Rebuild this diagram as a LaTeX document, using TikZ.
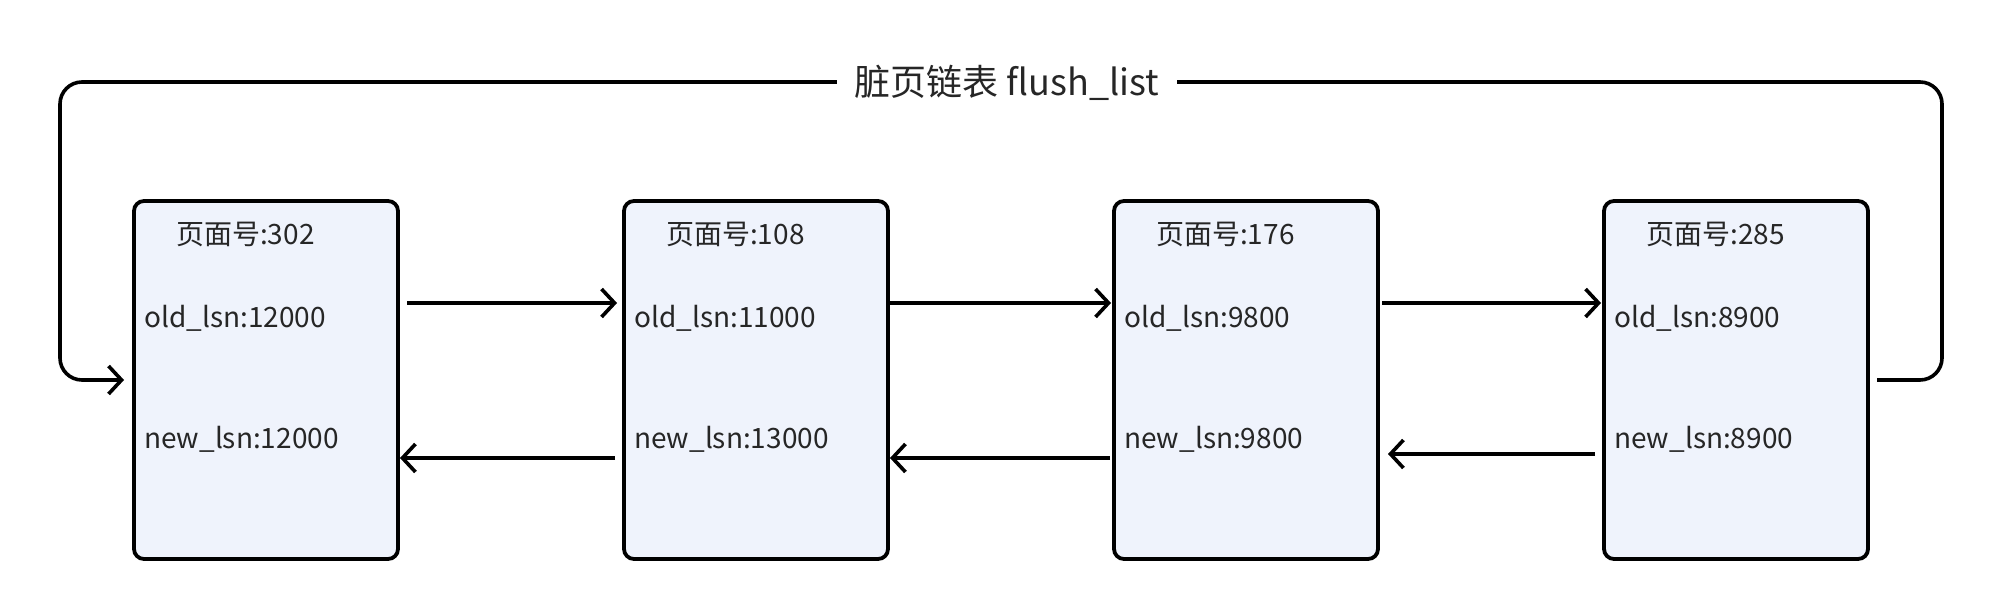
\documentclass[tikz,border=0pt]{standalone}
\usepackage{fontspec}
\setmainfont{Noto Sans CJK SC}
\usetikzlibrary{arrows.meta,calc}
\definecolor{boxfill}{HTML}{EFF3FC}
\definecolor{txt}{HTML}{262626}
\begin{document}
\begin{tikzpicture}[x=1pt,y=-1pt,
  page/.style={draw=black, line width=3.8pt, fill=boxfill, rounded corners=10pt,
    minimum width=264pt, minimum height=358pt, inner sep=0pt, outer sep=0pt, anchor=north west},
  lbl/.style={font=\fontsize{28}{32}\selectfont, text=txt, anchor=west, inner sep=0pt},
  conn/.style={line width=3.6pt, -{Straight Barb[length=13pt,width=28pt,line width=3.6pt]}},
]
\useasboundingbox (0,0) rectangle (2006,612);
\coordinate (rowA) at (0,303);
\coordinate (rowB) at (0,458);
\coordinate (rowL) at (0,380);
\coordinate (cr) at (1942,82);
\coordinate (cl) at (60,82);

\foreach \i/\x/\pg/\old/\new in {1/134/302/12000/12000, 2/624/108/11000/13000, 3/1114/176/9800/9800, 4/1604/285/8900/8900}{
  \node[page] (b\i) at (\x,201) {};
  \node[lbl] (t\i) at (\x+42,234) {页面号:\pg};
  \node[lbl] (o\i) at (\x+10,318) {old\_lsn:\old};
  \node[lbl] (n\i) at (\x+10,439) {new\_lsn:\new};
}

% forward
\draw[conn] ($(b1.east|-rowA)+(9,0)$) -- ($(b2.west|-rowA)+(-7,0)$);
\draw[conn] ($(b2.east|-rowA)+(2,0)$) -- ($(b3.west|-rowA)+(-3,0)$);
\draw[conn] ($(b3.east|-rowA)+(4,0)$) -- ($(b4.west|-rowA)+(-3,0)$);
% backward
\draw[conn] ($(b2.west|-rowB)+(-9,0)$) -- ($(b1.east|-rowB)+(2,0)$);
\draw[conn] ($(b3.west|-rowB)+(-4,0)$) -- ($(b2.east|-rowB)+(2,0)$);
\draw[conn] ($(b4.west|-rowB)+(-9,-4)$) -- ($(b3.east|-rowB)+(10,-4)$);

% loop
\draw[conn, rounded corners=22pt] ($(b4.east|-rowL)+(9,0)$) -- (cr|-rowL) -- (cr) -- (cl) -- (cl|-rowL) -- ($(b1.west|-rowL)+(-10,0)$);
\node[fill=white, inner xsep=18pt, inner ysep=4pt, text=txt, font=\fontsize{36}{40}\selectfont] (title) at (1007,83) {脏页链表 flush\_list};
\end{tikzpicture}
\end{document}
